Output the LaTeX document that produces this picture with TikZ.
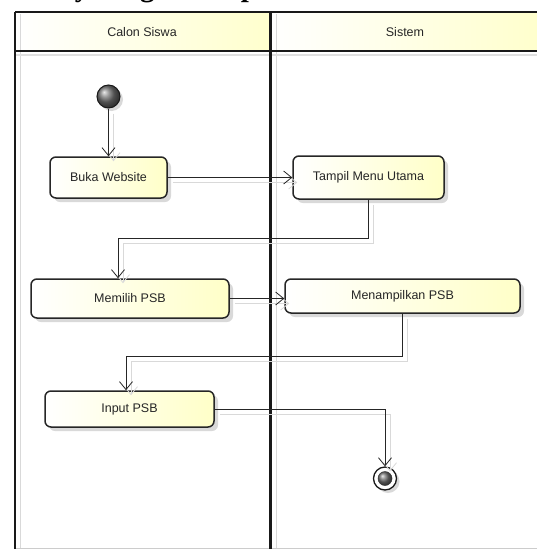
\documentclass[tikz,border=0pt]{standalone}
\usepackage{fontspec}
\setmainfont{Liberation Serif}
\newfontfamily\lanefont{Liberation Sans}
\usetikzlibrary{arrows.meta,shadows,calc}
\definecolor{paleyel}{RGB}{255,255,200}
\definecolor{hdryel}{RGB}{255,255,205}
\tikzset{
  x=1pt,y=-1pt,
  actbox/.style={draw=black!85, line width=1.5pt, rounded corners=6pt,
    left color=white, right color=paleyel, inner sep=0pt,
    font=\lanefont\fontsize{12.5}{14}\selectfont, text=black!85,
    drop shadow={shadow xshift=4pt, shadow yshift=-4pt, fill=black!25, opacity=0.6}},
  conn/.style={draw=black!85, line width=0.8pt,
    -{Straight Barb[length=8pt,width=13pt,line width=0.8pt]}},
  connshadow/.style={draw=black!15, line width=0.8pt,
    -{Straight Barb[length=8pt,width=13pt,line width=0.8pt]},
    transform canvas={xshift=5pt,yshift=-5pt}},
  laneline/.style={draw=black!90, line width=2.2pt},
  laneshadow/.style={draw=black!15, line width=1.4pt},
  hdrtext/.style={font=\lanefont\fontsize{12.5}{14}\selectfont, text=black!85},
}
\begin{document}
\begin{tikzpicture}
\useasboundingbox (0,0) rectangle (537,549);
% clipped title
\node[anchor=base west, inner sep=0pt, font=\bfseries\fontsize{29}{30}\selectfont] (title) at (-9,-4) {Activity Diagram Input PSB};
% headers
\shade[left color=white, right color=hdryel] (15,12) rectangle (270,51);
\shade[left color=white, right color=hdryel] (270,12) rectangle (537,51);
\node[hdrtext] (h1) at (142,32) {Calon Siswa};
\node[hdrtext] (h2) at (405,32) {Sistem};
% lane shadows
\draw[laneshadow] (20.5,14) -- (20.5,549);
\draw[laneshadow] (276.5,14) -- (276.5,549);
\draw[draw=black!12, line width=2pt] (16,54.5) -- (537,54.5);
\draw[draw=black!20, line width=1pt] (15,548) -- (537,548);
% lane lines
\draw[laneline] (15,12) -- (537,12);
\draw[laneline] (15,51) -- (537,51);
\draw[laneline] (15,12) -- (15,549);
\draw[laneline] (270.5,12) -- (270.5,549);
% initial node
\node[circle, minimum size=23pt, inner sep=0pt, draw=black!90, line width=1pt,
  shading=ball, ball color=black!55,
  drop shadow={shadow xshift=3pt, shadow yshift=-3pt, fill=black!25, opacity=0.6}] (init) at (108.5,96.5) {};
% final node
\node[circle, minimum size=23pt, inner sep=0pt, draw=black!90, line width=1.3pt, fill=white,
  drop shadow={shadow xshift=3pt, shadow yshift=-3pt, fill=black!25, opacity=0.6}] (final) at (385,478.5) {};
\node[circle, minimum size=14pt, inner sep=0pt, draw=black!80, line width=0.5pt,
  shading=ball, ball color=black!55] (finalin) at (385,478.5) {};
% activities
\node[actbox, minimum width=117pt, minimum height=41pt] (buka) at (108.5,177.5) {Buka Website};
\node[actbox, minimum width=151pt, minimum height=43pt] (tampil) at (368.5,177.5) {Tampil Menu Utama};
\node[actbox, minimum width=198pt, minimum height=39pt] (memilih) at (130,298.5) {Memilih PSB};
\node[actbox, minimum width=235pt, minimum height=34pt] (menampil) at (402.5,296) {Menampilkan PSB};
\node[actbox, minimum width=169pt, minimum height=36pt] (input) at (129.5,409) {Input PSB};
% bend points
\coordinate (k1) at (118,238);
\coordinate (k2) at (126,356);
% connector shadows
\draw[connshadow] (init.south) -- (init.south |- buka.north);
\draw[connshadow] (buka.east) -- (tampil.west);
\draw[connshadow] (tampil.south) |- (k1) -- (k1 |- memilih.north);
\draw[connshadow] (memilih.east) -- (memilih.east -| menampil.west);
\draw[connshadow] (menampil.south) |- (k2) -- (k2 |- input.north);
\draw[connshadow] (input.east) -| (final.north);
% connectors
\draw[conn] (init.south) -- (init.south |- buka.north);
\draw[conn] (buka.east) -- (tampil.west);
\draw[conn] (tampil.south) |- (k1) -- (k1 |- memilih.north);
\draw[conn] (memilih.east) -- (memilih.east -| menampil.west);
\draw[conn] (menampil.south) |- (k2) -- (k2 |- input.north);
\draw[conn] (input.east) -| (final.north);
\end{tikzpicture}
\end{document}
